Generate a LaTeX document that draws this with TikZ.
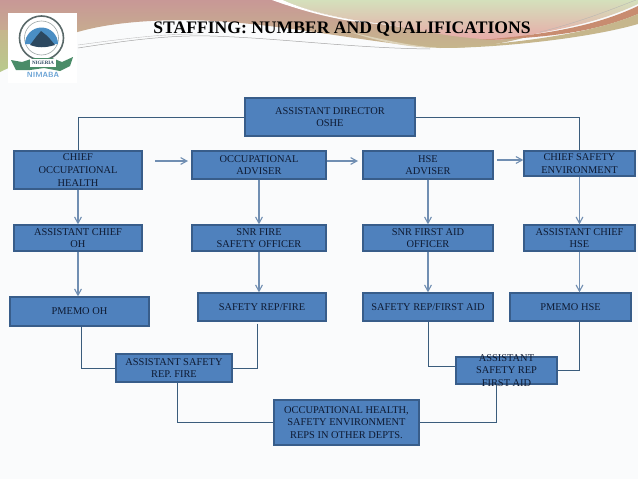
\documentclass[tikz,border=0pt]{standalone}
\usepackage{xcolor}
\usepackage{fontspec}
\setmainfont{Liberation Serif}
\usetikzlibrary{arrows.meta,positioning}
\definecolor{azulcaixa}{RGB}{79,129,189}
\definecolor{azulborda}{RGB}{56,93,138}
\definecolor{azullinha}{RGB}{58,92,124}
\definecolor{azulseta}{RGB}{112,142,178}
\definecolor{azultexto}{RGB}{14,26,50}
\definecolor{fundo}{RGB}{250,251,252}
\definecolor{rosa}{RGB}{200,152,150}
\definecolor{rosaclaro}{RGB}{232,170,168}
\definecolor{bege}{RGB}{198,182,140}
\definecolor{verdeclaro}{RGB}{212,224,188}
\definecolor{verdefolha}{RGB}{184,202,140}
\definecolor{telha}{RGB}{200,140,112}
\definecolor{cinzalogo}{RGB}{90,105,105}
\definecolor{azulagua}{RGB}{74,142,196}
\definecolor{azulmonte}{RGB}{44,72,96}
\definecolor{verdefaixa}{RGB}{74,140,104}
\definecolor{azulnome}{RGB}{108,164,214}
\tikzset{
  caixa/.style={rectangle,draw=azulborda,fill=azulcaixa,line width=1.3pt,inner sep=0pt},
  texto/.style={align=center,inner sep=0pt,text=azultexto,font=\fontsize{10.4}{12.7}\selectfont},
  titulo/.style={inner sep=0pt,font=\fontsize{17.6}{19}\selectfont\bfseries},
  linha/.style={azullinha,line width=1pt},
  seta/.style={-{Straight Barb[length=2.2mm,width=2.4mm]},azulseta,line width=1.1pt}
}
\begin{document}
\begin{tikzpicture}[x=1pt,y=-1pt]
  \useasboundingbox (0,0) rectangle (638,479);
  \fill[fundo] (0,0) rectangle (638,479);
  % swoosh
  \shade[top color=rosa,bottom color=bege] (0,0)--(283,0)
    .. controls (310,12) and (340,20) .. (380,24)
    .. controls (420,30) and (470,36) .. (530,36)
    .. controls (500,45) and (470,48) .. (440,48)
    .. controls (370,44) and (280,22) .. (190,20)
    .. controls (130,20) and (90,26) .. (60,38)
    -- (0,46) -- cycle;
  \shade[top color=bege,bottom color=verdefolha] (0,30)--(30,30)--(30,60)
    .. controls (18,64) and (8,68) .. (0,72) -- cycle;
  \fill[white] (283,0) .. controls (310,12) and (340,20) .. (385,24)
    .. controls (350,24) and (305,12) .. (272,0) -- cycle;
  \shade[top color=verdeclaro,middle color=verdeclaro,bottom color=rosaclaro] (283,0)--(638,0)--(638,4)
    .. controls (600,22) and (560,30) .. (500,40)
    .. controls (450,38) and (420,30) .. (385,24)
    .. controls (345,20) and (310,12) .. (283,0) -- cycle;
  \fill[telha] (638,6) .. controls (600,24) and (555,34) .. (480,40)
    .. controls (555,38) and (600,30) .. (638,14) -- cycle;
  \fill[bege] (638,14) .. controls (600,30) and (540,42) .. (440,48)
    .. controls (500,48) and (590,38) .. (638,24) -- cycle;
  \fill[bege!60!white] (440,48) .. controls (410,46) and (385,40) .. (350,32)
    .. controls (380,42) and (410,48) .. (440,48) -- cycle;
  \draw[gray!70,line width=0.5pt] (78,48) .. controls (130,40) and (170,35) .. (210,36)
    .. controls (280,38) and (350,48) .. (430,49);
  \draw[gray!50,line width=0.4pt] (78,45) .. controls (130,38) and (160,34) .. (200,34);
  \draw[gray!60,line width=0.3pt] (540,32) .. controls (580,22) and (610,10) .. (636,0);
  % logo
  \fill[white] (8,13) rectangle (77,83);
  \draw[cinzalogo,line width=1.6pt] (41.5,38) circle (22);
  \draw[cinzalogo!60,line width=0.6pt] (41.5,38) circle (17);
  \fill[azulagua] (25,44) -- (58,44) arc (0:-180:16.5) -- cycle;
  \fill[azulmonte] (30,45) -- (36,37) -- (41,31) -- (46,35) -- (50,39) -- (55,45)
    .. controls (45,48) and (38,48) .. (30,45) -- cycle;
  \fill[verdefaixa] (11,60) -- (22,62) -- (34,58) -- (52,58) -- (62,62) -- (73,57) -- (70,66)
    -- (60,71) -- (44,68) -- (30,70) -- (16,70) -- cycle;
  \fill[white] (30,59) rectangle (56,67);
  \node[inner sep=0pt,font=\fontsize{5}{5}\selectfont\bfseries,text=azulmonte] (nigeria) at (43,63) {NIGERIA};
  \node[inner sep=0pt,font=\fontsize{7.5}{7.5}\selectfont\bfseries\sffamily,text=azulnome] (nimaba) at (43,75) {NIMABA};
  \node[titulo,anchor=base] (tit) at (342,34) {STAFFING: NUMBER AND QUALIFICATIONS};
  % caixas
  \foreach \nome/\xa/\ya/\xb/\yb/\lab in {
    diretor/245/98/415/136/{ASSISTANT DIRECTOR\\OSHE},
    chefeoh/14/151/142/189/{CHIEF\\OCCUPATIONAL\\HEALTH},
    occadv/192/151/326/179/{OCCUPATIONAL\\ADVISER},
    hseadv/363/151/493/179/{HSE\\ADVISER},
    chefese/524/151/635/176/{CHIEF SAFETY\\ENVIRONMENT},
    assoh/14/225/142/251/{ASSISTANT CHIEF\\OH},
    snrfire/192/225/326/251/{SNR FIRE\\SAFETY OFFICER},
    snraid/363/225/493/251/{SNR FIRST AID\\OFFICER},
    asshse/524/225/635/251/{ASSISTANT CHIEF\\HSE},
    pmemooh/10/297/149/326/{PMEMO OH},
    repfire/198/293/326/321/{SAFETY REP/FIRE},
    repaid/363/293/493/321/{SAFETY REP/FIRST AID},
    pmemohse/510/293/631/321/{PMEMO HSE},
    assfire/116/354/232/382/{ASSISTANT SAFETY\\REP. FIRE},
    assaid/456/357/557/384/{ASSISTANT\\SAFETY REP\\FIRST AID},
    outros/274/400/419/445/{OCCUPATIONAL HEALTH,\\SAFETY ENVIRONMENT\\REPS IN OTHER DEPTS.}}
    {\node[caixa,minimum width={(\xb-\xa)*1pt},minimum height={(\yb-\ya)*1pt}] (\nome)
       at ({(\xa+\xb)/2},{(\ya+\yb)/2}) {};
     \node[texto] (\nome txt) at (\nome) {\lab};}
  % ligacoes
  \draw[linha] (diretor.west) -| (chefeoh.north);
  \draw[linha] (diretor.east) -| (chefese.north);
  \draw[linha] (pmemooh.south) ++(2,0) |- (assfire.west);
  \coordinate (r1) at ([xshift=-5pt,yshift=-2pt]repfire.south);
  \draw[linha] (r1) |- (assfire.east);
  \draw[linha] ([xshift=3.5pt]assfire.south) |- (outros.west);
  \draw[linha] (repaid.south) |- ([yshift=4pt]assaid.west);
  \draw[linha] ([xshift=9pt]pmemohse.south) |- (assaid.east);
  \draw[linha] ([xshift=-10pt]assaid.south) |- (outros.east);
  % setas
  \coordinate (s1) at (155,161);
  \coordinate (s2) at (188,161);
  \coordinate (s3) at (497,160);
  \draw[seta] (s1) -- (s2);
  \draw[seta] (occadv.east |- s1) -- (358,161);
  \draw[seta] (s3) -- (chefese.west |- s3);
  \foreach \a/\b in {chefeoh/assoh,assoh/pmemooh,occadv/snrfire,snrfire/repfire,
      hseadv/snraid,snraid/repaid,chefese/asshse,asshse/pmemohse}
    {\draw[seta] (\a.south) -- (\a.south |- \b.north);}
\end{tikzpicture}
\end{document}
